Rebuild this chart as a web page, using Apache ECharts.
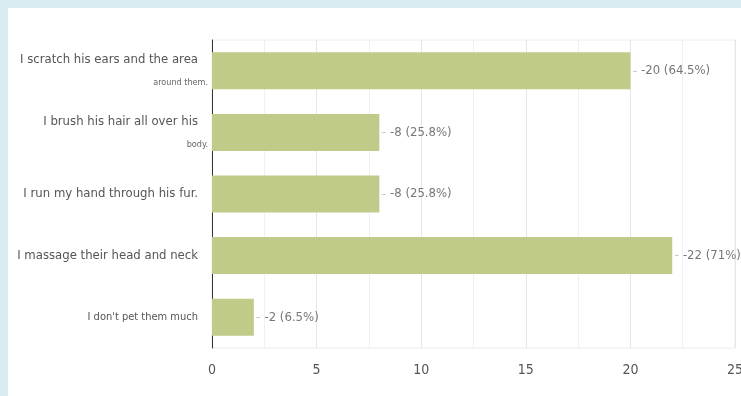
<!DOCTYPE html>
<html>
<head>
<meta charset="utf-8">
<script src="https://cdn.jsdelivr.net/npm/echarts@6/dist/echarts.min.js"></script>
<style>
  html, body { margin: 0; padding: 0; background: #d7ebf1; }
  #chart { position: absolute; left: 8px; top: 8px; width: 733px; height: 388px; background: #fff; }
</style>
</head>
<body>
<div id="chart"></div>
<script>
// data
const categories = [
  'I scratch his ears and the area|around them.',
  'I brush his hair all over his|body.',
  'I run my hand through his fur.',
  'I massage their head and neck',
  "I don't pet them much"
]
const counts = [20, 8, 8, 22, 2]
const percents = ['64.5%', '25.8%', '25.8%', '71%', '6.5%']
const xTicks = [0, 5, 10, 15, 20, 25]

const font = '"Liberation Sans Narrow", "DejaVu Sans Condensed", Arial, sans-serif'

const chart = echarts.init(document.getElementById('chart'))

chart.setOption({
  animation: false,
  grid: {
    left: 204, right: 6, top: 32, bottom: 48,
    outerBoundsMode: 'none',
    containLabel: false,
    show: true, borderColor: '#ececec', borderWidth: 1
  },
  xAxis: {
    type: 'value',
    min: xTicks[0],
    max: xTicks[xTicks.length - 1],
    interval: 5,
    axisLine: { show: false },
    axisTick: { show: false },
    axisLabel: { color: '#555', fontFamily: font, fontSize: 14, margin: 15 },
    splitLine: { lineStyle: { color: '#e6e6e6' } },
    minorTick: { show: false, splitNumber: 2 },
    minorSplitLine: { show: true, lineStyle: { color: '#f0f0f0' } }
  },
  yAxis: {
    type: 'category',
    inverse: true,
    data: categories,
    axisLine: { lineStyle: { color: '#333', width: 1 } },
    axisTick: { show: false },
    splitLine: { show: false },
    axisLabel: {
      margin: 4,
      fontFamily: font,
      formatter: (v, i) => {
        const parts = v.split('|')
        if (parts.length > 1) return '{a|' + parts[0] + '}\n{b|' + parts[1] + '}'
        if (i === 4) return '{c|' + v + '}'
        return '{a|' + v + '}'
      },
      rich: {
        a: { fontFamily: font, fontSize: 13, color: '#555', padding: [0, 10, 0, 0], lineHeight: 24 },
        b: { fontFamily: font, fontSize: 9, color: '#666', lineHeight: 22 },
        c: { fontFamily: font, fontSize: 11, color: '#555', padding: [0, 10, 0, 0] }
      }
    }
  },
  series: [{
    type: 'bar',
    data: counts,
    barWidth: '60%',
    itemStyle: { color: '#c1cb89' },
    label: {
      show: true,
      position: 'right',
      distance: 2,
      formatter: p => '{d|–} -' + p.value + ' (' + percents[p.dataIndex] + ')',
      fontFamily: font,
      fontSize: 13,
      color: '#777',
      rich: {
        d: { color: '#bbb', fontSize: 11, fontFamily: font }
      }
    }
  }]
})
</script>
</body>
</html>
